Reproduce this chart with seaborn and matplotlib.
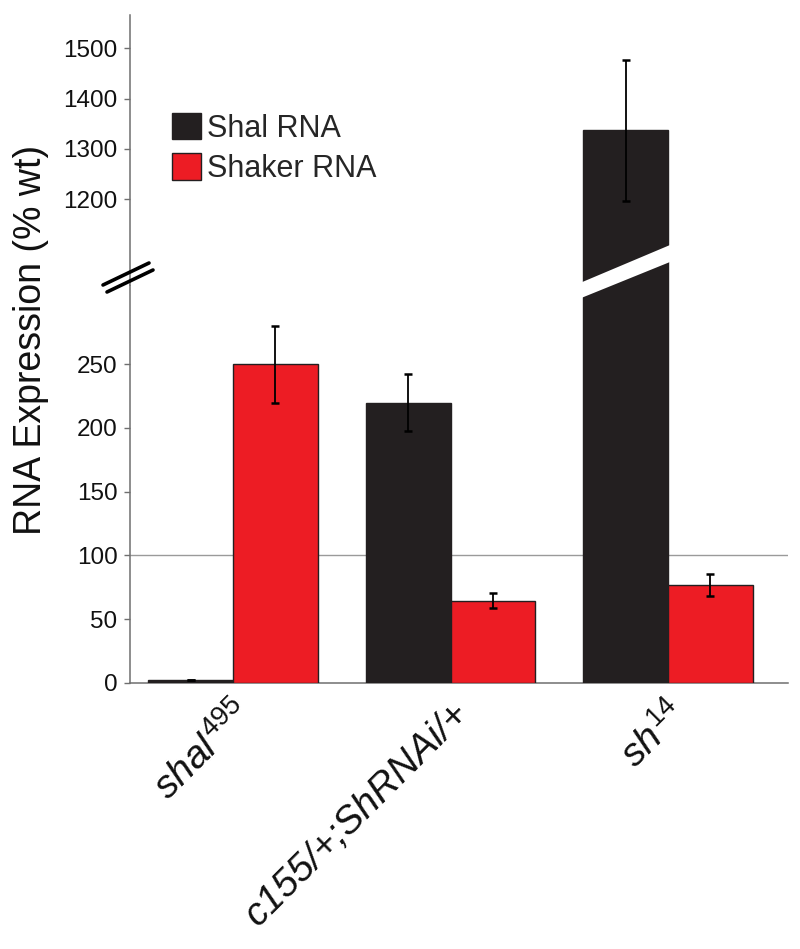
import matplotlib
matplotlib.use("Agg")
import matplotlib.pyplot as plt
from matplotlib.patches import Patch, Polygon
from matplotlib.lines import Line2D
from matplotlib.container import BarContainer
import seaborn as sns
import pandas as pd

# ---- data ----
genotypes = [r"$\mathit{shal}^{\mathrm{495}}$", "c155/+;ShRNAi/+", r"$\mathit{sh}^{\mathrm{14}}$"]
series = ["Shal RNA", "Shaker RNA"]
shal_vals = [2, 220, 1337]
shal_errs = [0, 22, 140]
shaker_vals = [250, 64.5, 76.5]
shaker_errs = [30, 6, 8.5]
colors = ["#231F20", "#ED1C24"]
lower_ticks = [0, 50, 100, 150, 200, 250]
upper_ticks = [1200, 1300, 1400, 1500]
ref_line = 100

sns.set_style("white")
plt.rcParams["font.family"] = ["Liberation Sans", "DejaVu Sans"]
plt.rcParams["mathtext.fontset"] = "custom"
plt.rcParams["mathtext.it"] = "Liberation Sans:italic"
plt.rcParams["mathtext.rm"] = "Liberation Sans"

df = pd.DataFrame({
    "genotype": genotypes * 2,
    "rna": [series[0]] * 3 + [series[1]] * 3,
    "expr": shal_vals + shaker_vals,
    "err": shal_errs + shaker_errs,
})

W, H = 800, 949
fig = plt.figure(figsize=(8, 9.49), dpi=100)
left = 130 / W
width = (788 - 130) / W
yb = 285  # break pixel
ax_low = fig.add_axes([left, 1 - 682.7 / H, width, (682.7 - yb) / H])
ax_up = fig.add_axes([left, 1 - yb / H, width, (yb - 15) / H])

low_px = 1.2736
up_px = 0.5023
low_top = (682.7 - yb) / low_px
up_bot = 1200 - (yb - 199.3) / up_px
up_top = 1500 + (48.3 - 15) / up_px

bar_sets = {}
for ax in (ax_low, ax_up):
    sns.barplot(data=df, x="genotype", y="expr", hue="rna", order=genotypes,
                hue_order=series, palette=colors, saturation=1, width=0.78,
                errorbar=None, edgecolor="#231F20", linewidth=1.0, ax=ax,
                legend=False, zorder=3)
    conts = [c for c in ax.containers if isinstance(c, BarContainer)]
    bar_sets[ax] = conts
    for ci, cont in enumerate(conts):
        sub = df[df["rna"] == series[ci]].set_index("genotype").loc[genotypes]
        xs = [p.get_x() + p.get_width() / 2 for p in cont.patches]
        ax.errorbar(xs, sub["expr"].values, yerr=sub["err"].values, fmt="none",
                    ecolor="black", elinewidth=1.3, capsize=2.8, capthick=1.8,
                    zorder=4)
    ax.set_xlim(-0.4736, 2.5517)
    ax.set_xlabel("")
    ax.set_ylabel("")
    for s in ("top", "right"):
        ax.spines[s].set_visible(False)
    ax.spines["left"].set_color("#6f6f6f")
    ax.spines["left"].set_linewidth(1.1)
    ax.tick_params(axis="y", length=4, width=1, color="#6f6f6f", pad=5,
                   labelsize=17.5, labelcolor="#111111", direction="out", left=True)

ax_low.set_ylim(0, low_top)
ax_low.set_yticks(lower_ticks)
ax_low.axhline(ref_line, color="#9a9a9a", lw=1.0, zorder=1)
ax_low.spines["bottom"].set_color("#6f6f6f")
ax_low.spines["bottom"].set_linewidth(1.1)
ax_low.tick_params(axis="x", length=0, pad=9)
ax_low.set_xticks(range(len(genotypes)))
ax_low.set_xticklabels(genotypes, rotation=45, ha="right", va="top",
                       rotation_mode="anchor", fontsize=28, fontstyle="italic",
                       color="#111111")

ax_up.set_ylim(up_bot, up_top)
ax_up.set_yticks(upper_ticks)
ax_up.spines["bottom"].set_visible(False)
ax_up.set_xticks([])

# white slanted gap through the tall bar
tall = bar_sets[ax_low][0].patches[2]
x0 = tall.get_x()
x1 = x0 + tall.get_width()
to_fig = ax_low.transData + fig.transFigure.inverted()
fx0 = to_fig.transform((x0, 0))[0] - 0.004
fx1 = to_fig.transform((x1, 0))[0] + 0.004
gap = Polygon([(fx0, 1 - 283.0 / H), (fx1, 1 - 244.5 / H),
               (fx1, 1 - 261.5 / H), (fx0, 1 - 298.5 / H)],
              closed=True, transform=fig.transFigure, facecolor="white",
              edgecolor="none", zorder=10)
fig.patches.append(gap)

# axis break marks
for (xa, ya, xb, yb2) in [(103, 285, 149, 263), (107, 292, 153, 270)]:
    fig.lines.append(Line2D([xa / W, xb / W], [1 - ya / H, 1 - yb2 / H],
                            transform=fig.transFigure, color="black", lw=2.6,
                            zorder=11))

# legend
handles = [Patch(facecolor=c, edgecolor="#231F20", linewidth=1.0) for c in colors]
fig.legend(handles, series, loc="upper left",
           bbox_to_anchor=(172 / W, 1 - 113 / H), frameon=False, fontsize=22,
           handlelength=0.95, handleheight=0.95, handletextpad=0.2,
           labelspacing=0.32, borderpad=0, borderaxespad=0)

fig.text(31 / W, 1 - 340 / H, "RNA Expression (% wt)", rotation=90,
         ha="center", va="center", fontsize=27, color="#111111")

fig.savefig("out.png", dpi=100)
